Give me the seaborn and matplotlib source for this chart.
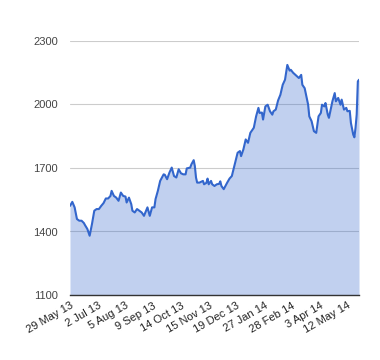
import matplotlib
matplotlib.use("Agg")
import matplotlib.pyplot as plt
import seaborn as sns
import pandas as pd

# trading-day index (0 = 29 May 13) and closing value
day_idx = [0, 2, 4, 6, 8, 10, 12, 13, 15, 17, 19, 21, 23, 25, 27, 29, 31, 33, 35, 36,
           38, 40, 42, 44, 46, 48, 49, 51, 53, 54, 56, 58, 60, 62, 64, 67, 69, 71, 73, 74,
           76, 78, 81, 82, 84, 86, 87, 88, 90, 92, 94, 96, 98, 100, 101, 104, 105, 107, 108, 109,
           110, 112, 115, 116, 118, 119, 120, 122, 123, 125, 127, 129, 130, 131, 133, 136, 138, 140, 142, 145,
           147, 148, 150, 152, 154, 156, 159, 161, 163, 164, 166, 167, 169, 171, 173, 175, 176, 178, 180, 182,
           184, 186, 188, 190, 191, 193, 195, 198, 200, 201, 203, 206, 207, 209, 211, 213, 215, 217, 218, 220,
           221, 223, 224, 227, 229, 230, 232, 234, 235, 237, 239, 240, 242, 243, 245, 246, 247, 248, 249, 250]
price = [1521, 1540, 1514, 1459, 1451, 1451, 1440, 1430, 1412, 1380, 1435, 1498, 1506, 1506, 1521, 1534, 1556, 1556, 1568, 1592,
         1568, 1560, 1545, 1584, 1568, 1565, 1537, 1560, 1529, 1498, 1490, 1506, 1498, 1490, 1474, 1514, 1474, 1514, 1514, 1553,
         1592, 1639, 1670, 1668, 1647, 1678, 1690, 1702, 1662, 1655, 1694, 1675, 1670, 1670, 1698, 1702, 1717, 1737, 1709, 1655,
         1631, 1631, 1639, 1623, 1630, 1650, 1623, 1639, 1623, 1615, 1623, 1625, 1637, 1615, 1600, 1631, 1650, 1662, 1706, 1772,
         1780, 1756, 1788, 1835, 1819, 1866, 1890, 1944, 1984, 1960, 1962, 1929, 1991, 1999, 1968, 1952, 1968, 1976, 2019, 2046,
         2093, 2117, 2187, 2160, 2164, 2150, 2140, 2125, 2140, 2093, 2077, 1999, 1944, 1921, 1874, 1866, 1944, 1960, 1999, 1991,
         2007, 1952, 1937, 2015, 2054, 2015, 2031, 1999, 2023, 1976, 1984, 1968, 1970, 1913, 1858, 1845, 1890, 1952, 2109, 2117]

tick_labels = ["29 May 13", "2 Jul 13", "5 Aug 13", "9 Sep 13", "14 Oct 13", "15 Nov 13",
               "19 Dec 13", "27 Jan 14", "28 Feb 14", "3 Apr 14", "12 May 14"]
tick_idx = [0, 24, 48, 72, 96, 120, 144, 168, 192, 216, 240]
y_ticks = [1100, 1400, 1700, 2000, 2300]

df = pd.DataFrame({"day": day_idx, "price": price})

sns.set_style("white")
plt.rcParams["font.family"] = ["Liberation Sans", "DejaVu Sans"]

fig = plt.figure(figsize=(3.8, 3.6), dpi=100)
ax = fig.add_axes([70 / 380, 1 - 295 / 360, 289 / 380, 254 / 360])

line_color = "#3366cc"
ax.fill_between(df["day"], df["price"], 1100, color=line_color, alpha=0.3, linewidth=0)
sns.lineplot(data=df, x="day", y="price", ax=ax, color=line_color, linewidth=1.5)

ax.set_xlim(0, 250)
ax.set_ylim(1100, 2300)
ax.set_yticks(y_ticks)
ax.set_yticklabels([str(v) for v in y_ticks])
ax.set_xticks(tick_idx)
ax.set_xticklabels(tick_labels, rotation=30, ha="right", rotation_mode="anchor")
ax.set_xlabel("")
ax.set_ylabel("")

ax.grid(axis="y", color="#cccccc", linewidth=0.8)
ax.set_axisbelow(True)
for s in ["top", "right", "left"]:
    ax.spines[s].set_visible(False)
ax.spines["bottom"].set_color("#333333")
ax.spines["bottom"].set_linewidth(1.0)
ax.spines["bottom"].set_zorder(5)

ax.tick_params(axis="y", length=0, pad=8.5, labelsize=8, labelcolor="#444444")
ax.tick_params(axis="x", length=0, pad=4, labelsize=8, labelcolor="#222222")

fig.savefig("out.png", dpi=100, facecolor="white")
